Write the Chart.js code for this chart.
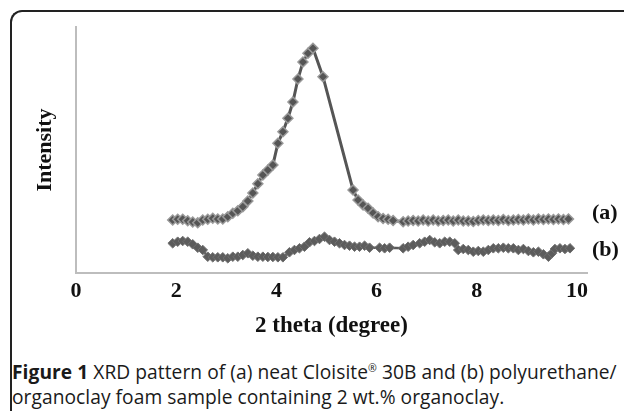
<!DOCTYPE html>
<html>
<head>
<meta charset="utf-8">
<script src="https://cdn.jsdelivr.net/npm/chart.js@4/dist/chart.umd.min.js"></script>
<style>
  html, body { margin:0; padding:0; background:#fff; width:624px; height:411px; overflow:hidden; }
  #frame { position:absolute; left:10px; top:10px; width:700px; height:600px;
           border-left:2px solid #222; border-top:2px solid #222; border-top-left-radius:12px; }
  #c { position:absolute; left:0; top:0; }
  .lbl { position:absolute; font-family:"Liberation Serif", serif; font-weight:bold; font-size:22px; color:#111; line-height:22px; }
  #cap { position:absolute; left:12px; top:356px; width:612px; font-family:"Open Sans", sans-serif;
         font-size:19.2px; line-height:25px; color:#1a1a1a; white-space:nowrap; letter-spacing:0.05px; }
  #cap b { font-weight:bold; }
  #cap .r { font-size:0.55em; vertical-align:0.7em; }
</style>
</head>
<body>
<div id="frame"></div>
<canvas id="c" width="624" height="345"></canvas>
<div class="lbl" style="left:592px; top:201px;">(a)</div>
<div class="lbl" style="left:592px; top:238px;">(b)</div>
<div id="cap"><b>Figure 1</b> XRD pattern of (a) neat Cloisite<span class="r">®</span> 30B and (b) polyurethane/<br>organoclay foam sample containing 2 wt.% organoclay.</div>
<script>
// Series (a): neat Cloisite 30B
const xA = [1.93,2.03,2.13,2.23,2.33,2.43,2.53,2.63,2.73,2.83,2.93,3.03,3.13,3.23,3.33,3.43,3.53,3.63,3.73,3.83,3.93,4.03,4.13,4.23,4.33,4.43,4.53,4.63,4.73,4.93,5.53,5.63,5.73,5.83,5.93,6.03,6.13,6.23,6.33,6.53,6.63,6.73,6.83,6.93,7.03,7.13,7.23,7.33,7.43,7.53,7.63,7.73,7.83,7.93,8.03,8.13,8.23,8.33,8.43,8.53,8.63,8.73,8.83,8.93,9.03,9.13,9.23,9.33,9.43,9.53,9.63,9.73,9.83];
const yA = [53,53.7,53.7,52.3,51,50.3,53,53.7,54.7,54,54,56.3,59.7,62.3,66.3,72,80,89.2,98,103,108,129.7,141.3,154.7,171,194,211,219.7,224.7,196.3,83,73,68,64.7,60,56.3,54.5,53.7,52.5,51.3,52,52.5,52,53,52,53,52,52.5,53,52,53,52,52,51.5,52.5,53,52.5,53,52.5,53.5,52.5,53,53.5,53,54,53,54,53.5,54,53.5,54,53.5,54];
// Series (b): polyurethane/organoclay foam (2 wt.%)
const xB = [1.93,2.03,2.13,2.23,2.33,2.43,2.53,2.63,2.73,2.83,2.93,3.03,3.13,3.23,3.33,3.43,3.53,3.63,3.73,3.83,3.93,4.03,4.13,4.26,4.36,4.46,4.56,4.66,4.76,4.86,4.96,5.06,5.16,5.26,5.36,5.46,5.56,5.66,5.76,5.86,6.06,6.16,6.26,6.53,6.63,6.73,6.86,6.96,7.06,7.16,7.26,7.36,7.46,7.56,7.63,7.73,7.83,7.93,8.03,8.13,8.23,8.33,8.43,8.53,8.63,8.73,8.83,8.93,9.03,9.13,9.23,9.33,9.43,9.50,9.56,9.66,9.76,9.86];
const yB = [29.7,31.3,32,31.3,28.7,25.3,23,16.3,15.7,15.7,15.7,14.7,16.3,16.3,18,19.7,17.3,16.3,16.3,16,16,15.7,15.7,20.7,23,24.7,26.3,30.7,32,34,36.3,33,31.3,29.7,28,27.3,26.3,26.3,27.3,25.3,25.3,24.7,25.3,24.7,26.3,28,29.7,31.3,33,30.7,29.7,31.3,31.3,29.7,23,24,23,21.3,22,21.3,23,24.7,24.7,25.3,24.7,24.7,23,24,22,20.7,21.3,18.7,16.3,19.7,24,24.7,24,24.7];
const xTicks = [0,2,4,6,8,10];

const serif = "'Liberation Serif', 'Times New Roman', serif";
const toPts = (xs, ys) => xs.map((x, i) => ({x, y: ys[i]}));

new Chart(document.getElementById('c'), {
  type: 'scatter',
  data: {
    datasets: [
      { data: toPts(xA, yA), showLine: true, borderColor: '#555', borderWidth: 3,
        pointStyle: 'rectRot', pointRadius: 5, pointBackgroundColor: '#555', pointBorderColor: '#9a9a9a', pointBorderWidth: 1.5 },
      { data: toPts(xB, yB), showLine: true, borderColor: '#5a5a5a', borderWidth: 2.5,
        pointStyle: 'rectRot', pointRadius: 4.8, pointBackgroundColor: '#5c5c5c', pointBorderColor: '#707070', pointBorderWidth: 1 }
    ]
  },
  options: {
    responsive: false, devicePixelRatio: 1, animation: false,
    layout: { padding: { left: 0, top: 27, right: 37, bottom: 0 } },
    plugins: { legend: { display: false }, tooltip: { enabled: false } },
    scales: {
      x: {
        type: 'linear', min: 0, max: 10.2,
        afterFit: s => { s.height = 72; },
        afterBuildTicks: s => { s.ticks = xTicks.map(v => ({value: v})); },
        grid: { display: true, drawOnChartArea: false, drawTicks: false },
        border: { display: true, color: '#bdbdbd', width: 2 },
        ticks: { padding: 5, color: '#111', font: { family: serif, size: 22, weight: 'bold' } },
        title: { display: true, text: '2 theta (degree)', color: '#111', padding: { top: 0, bottom: 5 },
                 font: { family: serif, size: 23, weight: 'bold' } }
      },
      y: {
        min: 0, max: 246,
        afterFit: s => { s.width = 76; },
        grid: { display: true, drawOnChartArea: false, drawTicks: false },
        border: { display: true, color: '#bdbdbd', width: 2 },
        ticks: { display: false },
        title: { display: true, text: 'Intensity', color: '#111', padding: { top: 32, bottom: 0 },
                 font: { family: serif, size: 22, weight: 'bold' } }
      }
    }
  }
});
</script>
</body>
</html>
